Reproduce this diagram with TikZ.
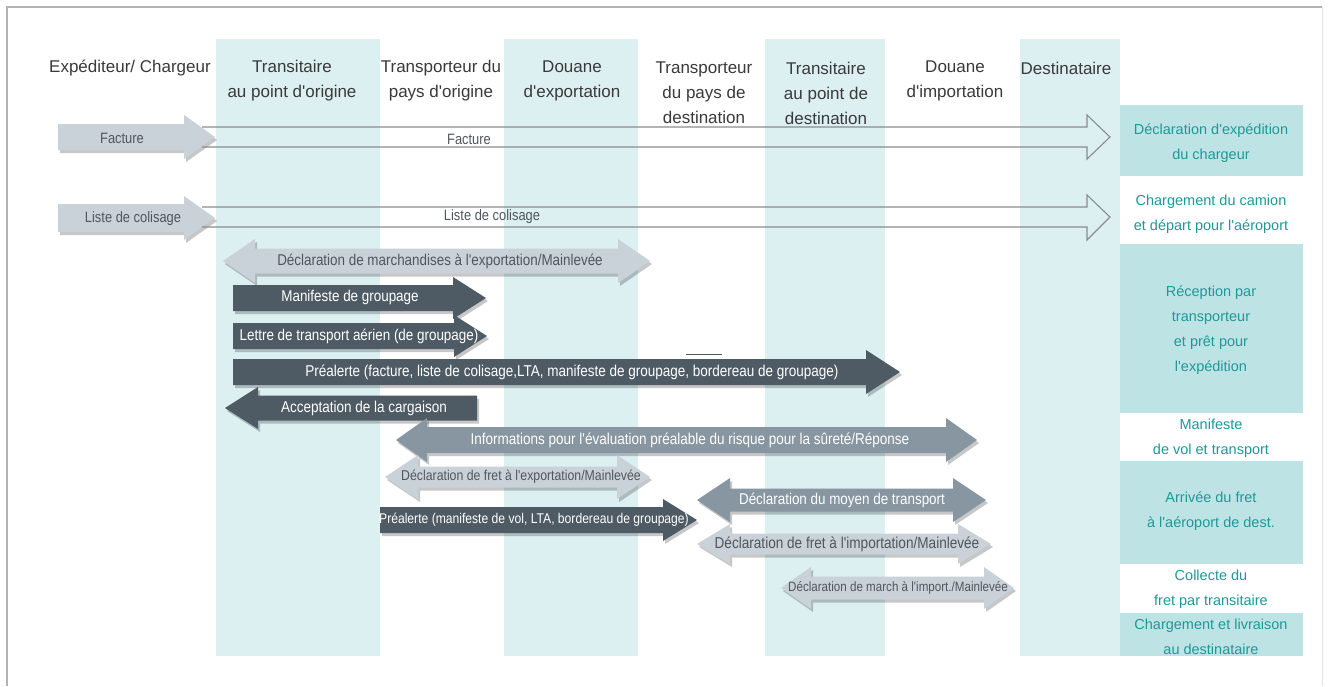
\documentclass[tikz,border=0pt]{standalone}
\usepackage{fontspec}
\setmainfont{Liberation Sans}[Ligatures=TeXOff]
\newfontfamily\nfont{Liberation Sans}[FakeStretch=0.86,Ligatures=TeXOff]
\usetikzlibrary{shadows}
\definecolor{bandc}{HTML}{DCEFF1}
\definecolor{boxc}{HTML}{BEE3E5}
\definecolor{tealtxt}{HTML}{1F9898}
\definecolor{darkarr}{HTML}{4E5B64}
\definecolor{midarr}{HTML}{8796A0}
\definecolor{lightarr}{HTML}{C9D2D8}
\definecolor{hdrc}{HTML}{3A3A3A}
\definecolor{lblc}{HTML}{50575C}
\definecolor{thinc}{HTML}{8C8C8C}
\newcommand\RA[7]{\path[#1] (#2,#4-#5) -- (#3-#7,#4-#5) -- (#3-#7,#4-#6) -- (#3,#4) -- (#3-#7,#4+#6) -- (#3-#7,#4+#5) -- (#2,#4+#5) -- cycle;}
\newcommand\LA[7]{\path[#1] (#3,#4-#5) -- (#2+#7,#4-#5) -- (#2+#7,#4-#6) -- (#2,#4) -- (#2+#7,#4+#6) -- (#2+#7,#4+#5) -- (#3,#4+#5) -- cycle;}
\newcommand\DA[7]{\path[#1] (#2,#4) -- (#2+#7,#4-#6) -- (#2+#7,#4-#5) -- (#3-#7,#4-#5) -- (#3-#7,#4-#6) -- (#3,#4) -- (#3-#7,#4+#6) -- (#3-#7,#4+#5) -- (#2+#7,#4+#5) -- (#2+#7,#4+#6) -- cycle;}
\newcommand\fs[1]{\fontsize{#1}{18}\selectfont}
\tikzset{
  shad/.style={drop shadow={shadow xshift=2pt, shadow yshift=-3pt, opacity=0.22, fill=black}},
  darka/.style={fill=darkarr, shad},
  mida/.style={fill=midarr, shad},
  lighta/.style={fill=lightarr, shad},
  thina/.style={draw=thinc, line width=1.1pt},
  band/.style={fill=bandc},
  fbox/.style={fill=boxc},
  hdr/.style={text=hdrc, align=center, font=\fontsize{17}{25}\selectfont, inner sep=0pt},
  rtxt/.style={text=tealtxt, align=center, font=\fontsize{14.5}{25}\selectfont, inner sep=0pt},
  wl/.style={text=white, inner sep=0pt, font=\nfont\fs{15}},
  dl/.style={text=lblc, inner sep=0pt, font=\nfont\fs{15}},
}
\begin{document}
\begin{tikzpicture}[x=1pt,y=-1pt]
\useasboundingbox (0,0) rectangle (1328,686);
\fill[white] (0,0) rectangle (1328,686);
% frame
\draw[gray!60, line width=1.3pt] (7,686) -- (7,7) -- (1322,7);
\draw[gray!20, line width=1pt] (1322,7) -- (1322,686);
% bands
\path[band] (216,39) rectangle (380,656);
\path[band] (504,39) rectangle (638,656);
\path[band] (765,39) rectangle (885,656);
\path[band] (1020,39) rectangle (1120,656);
% right column boxes
\path[fbox] (1120,105) rectangle (1303,176);
\path[fbox] (1120,244) rectangle (1303,413);
\path[fbox] (1120,461) rectangle (1303,564);
\path[fbox] (1120,613) rectangle (1303,656);
\node[rtxt] (r1) at (1211,143.5) {Déclaration d'expédition\\du chargeur};
\node[rtxt] (r2) at (1211,214) {Chargement du camion\\et départ pour l'aéroport};
\node[rtxt] (r3) at (1211,330) {Réception par\\transporteur\\et prêt pour\\l'expédition};
\node[rtxt] (r4) at (1211,438.5) {Manifeste\\de vol et transport};
\node[rtxt] (r5) at (1211,511.5) {Arrivée du fret\\à l'aéroport de dest.};
\node[rtxt] (r6) at (1211,589) {Collecte du\\fret par transitaire};
\node[rtxt] (r7) at (1211,636.5) {Chargement et livraison\\au destinataire};
% headers
\node[hdr] (h1) at (130,68) {Expéditeur/ Chargeur};
\node[hdr] (h2) at (292,80.5) {Transitaire\\au point d'origine};
\node[hdr] (h3) at (441,80.5) {Transporteur du\\pays d'origine};
\node[hdr] (h4) at (572,80.5) {Douane\\d'exportation};
\node[hdr] (h5) at (704,93) {Transporteur\\du pays de\\destination};
\node[hdr] (h6) at (826,93) {Transitaire\\au point de\\destination};
\node[hdr] (h7) at (955,80.5) {Douane\\d'importation};
\node[hdr] (h8) at (1066,68) {Destinataire};
% left grey arrows
\RA{lighta}{58}{215}{137}{13}{22}{31}
\node[dl] (fa) at (122,138) {Facture};
\RA{lighta}{58}{215}{218}{14}{22}{31}
\node[dl] (lc) at (133,219) {Liste de colisage};
% thin outline arrows
\draw[thina] (202,127) -- (1087,127) -- (1087,115) -- (1110,137) -- (1087,159) -- (1087,147) -- (202,147);
\node[dl] (fb) at (469,139) {Facture};
\draw[thina] (202,207) -- (1087,207) -- (1087,195) -- (1110,217) -- (1087,240) -- (1087,227) -- (202,227);
\node[dl] (lcb) at (492,217) {Liste de colisage};
% middle arrows
\DA{lighta}{223}{650}{261}{12.5}{22}{32}
\node[dl, font=\nfont\fs{15.6}] (a3) at (440,261) {Déclaration de marchandises à l'exportation/Mainlevée};
\RA{darka}{233}{486}{298}{13}{21}{33}
\node[wl, font=\nfont\fs{15.6}] (a4) at (350,297) {Manifeste de groupage};
\RA{darka}{233}{487}{336}{13}{21}{33}
\node[wl, font=\nfont\fs{15.6}] (a5) at (359,336) {Lettre de transport aérien (de groupage)};
\RA{darka}{233}{900}{372}{13}{22}{34}
\node[wl, font=\nfont\fs{15.7}] (a6) at (572,372) {Préalerte (facture, liste de colisage,LTA, manifeste de groupage, bordereau de groupage)};
\draw[darkarr, line width=1pt] (686,354) -- (722,354);
\LA{darka}{225}{477}{408}{12.5}{21}{33}
\node[wl, font=\nfont\fs{15.7}] (a7) at (364,408) {Acceptation de la cargaison};
\DA{mida}{396}{977}{440}{13}{22}{31}
\node[wl, font=\nfont\fs{15.7}] (a8) at (690,440) {Informations pour l'évaluation préalable du risque pour la sûreté/Réponse};
\DA{lighta}{385}{650}{477}{10.5}{22}{33}
\node[dl, font=\nfont\fs{14.3}] (a9) at (521,477) {Déclaration de fret à l'exportation/Mainlevée};
\RA{darka}{380}{697}{520}{13}{21}{34}
\node[wl, font=\nfont\fs{14.1}] (a10) at (534,520) {Préalerte (manifeste de vol, LTA, bordereau de groupage)};
\DA{mida}{697}{986}{500}{11.5}{22}{33}
\node[wl, font=\nfont\fs{15.6}] (a11) at (842,500) {Déclaration du moyen de transport};
\DA{lighta}{697}{991}{544}{10.5}{20}{33}
\node[dl, font=\nfont\fs{15.8}] (a12) at (847,544) {Déclaration de fret à l'importation/Mainlevée};
\DA{lighta}{781}{1014}{588}{11.5}{21}{30}
\node[dl, font=\nfont\fs{13.5}] (a13) at (898,588) {Déclaration de march à l'import./Mainlevée};
\end{tikzpicture}
\end{document}
